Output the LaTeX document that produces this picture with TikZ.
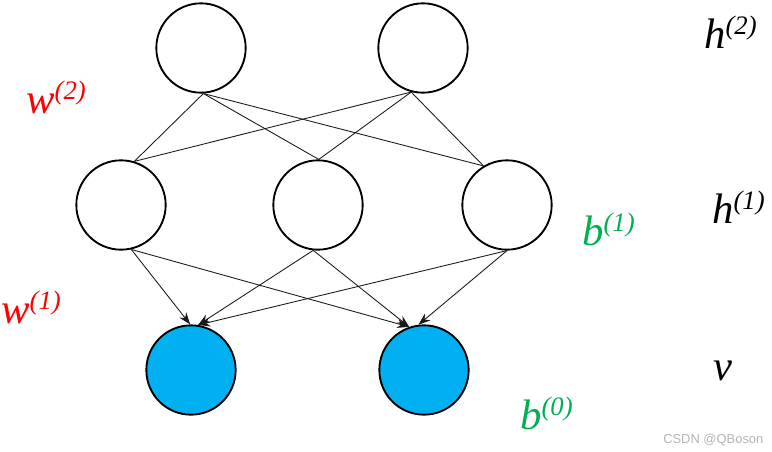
\documentclass[tikz,border=0pt]{standalone}
\usepackage{fontspec}
\setmainfont{Liberation Serif}
\newfontfamily\wmfont{Liberation Sans}
\usetikzlibrary{arrows.meta}
\definecolor{nodeblue}{HTML}{00B0F0}
\definecolor{lblred}{HTML}{FF0000}
\definecolor{lblgreen}{HTML}{00B050}
\definecolor{wmgray}{HTML}{B4B4B4}
\newcommand{\myspx}[1]{\raisebox{10.5pt}{\fontsize{20}{23}\selectfont\itshape(#1)}}
\begin{document}
\begin{tikzpicture}[x=0.75pt,y=-0.75pt,
  neuron/.style={circle,draw=black,line width=1.4pt,minimum size=67pt,inner sep=0pt},
  visible/.style={neuron,fill=nodeblue},
  link/.style={draw=black!90,line width=0.65pt},
  arr/.style={link,-{Stealth[length=9pt,width=6.5pt]}},
  lbl/.style={anchor=base west,inner sep=0pt,font=\fontsize{32}{38}\selectfont\itshape}]
\useasboundingbox (0,0) rectangle (772,451);
% hidden layer 2
\node[neuron] (t1) at (201,48) {};
\node[neuron] (t2) at (423,48) {};
% hidden layer 1
\node[neuron] (m1) at (121,205) {};
\node[neuron] (m2) at (318,205) {};
\node[neuron] (m3) at (507,205) {};
% visible layer
\node[visible] (b1) at (191,370) {};
\node[visible] (b2) at (424,370) {};
% w(2) links
\foreach \s in {t1.-87,t2.-105}{
  \draw[link] (\s) -- (m1.73);
  \draw[link] (\s) -- (m2.89);
  \draw[link] (\s) -- (m3.121);
}
% w(1) arrows
\draw[arr] (m1.-77) -- (b1.91);
\draw[arr] (m1.-77) -- (b2.109);
\draw[arr] (m2.-96) -- (b1.81);
\draw[arr] (m2.-96) -- (b2.109);
\draw[arr] (m3.-90) -- (b1.81);
\draw[arr] (m3.-90) -- (b2.97);
% labels
\node[lbl,text=lblred] (lw2) at (26,113) {w\myspx{2}};
\node[lbl,text=lblred] (lw1) at (1,323) {w\myspx{1}};
\node[lbl,text=lblgreen] (lb1) at (582,245) {b\myspx{1}};
\node[lbl,text=lblgreen] (lb0) at (520,429) {b\myspx{0}};
\node[lbl] (lh2) at (704,48) {h\myspx{2}};
\node[lbl] (lh1) at (712,223) {h\myspx{1}};
\node[lbl] (lv) at (713,380) {v};
\node[anchor=base west,inner sep=0pt,text=wmgray,font=\wmfont\fontsize{9.7}{12}\selectfont] (wm) at (663,443) {CSDN @QBoson};
\end{tikzpicture}
\end{document}
